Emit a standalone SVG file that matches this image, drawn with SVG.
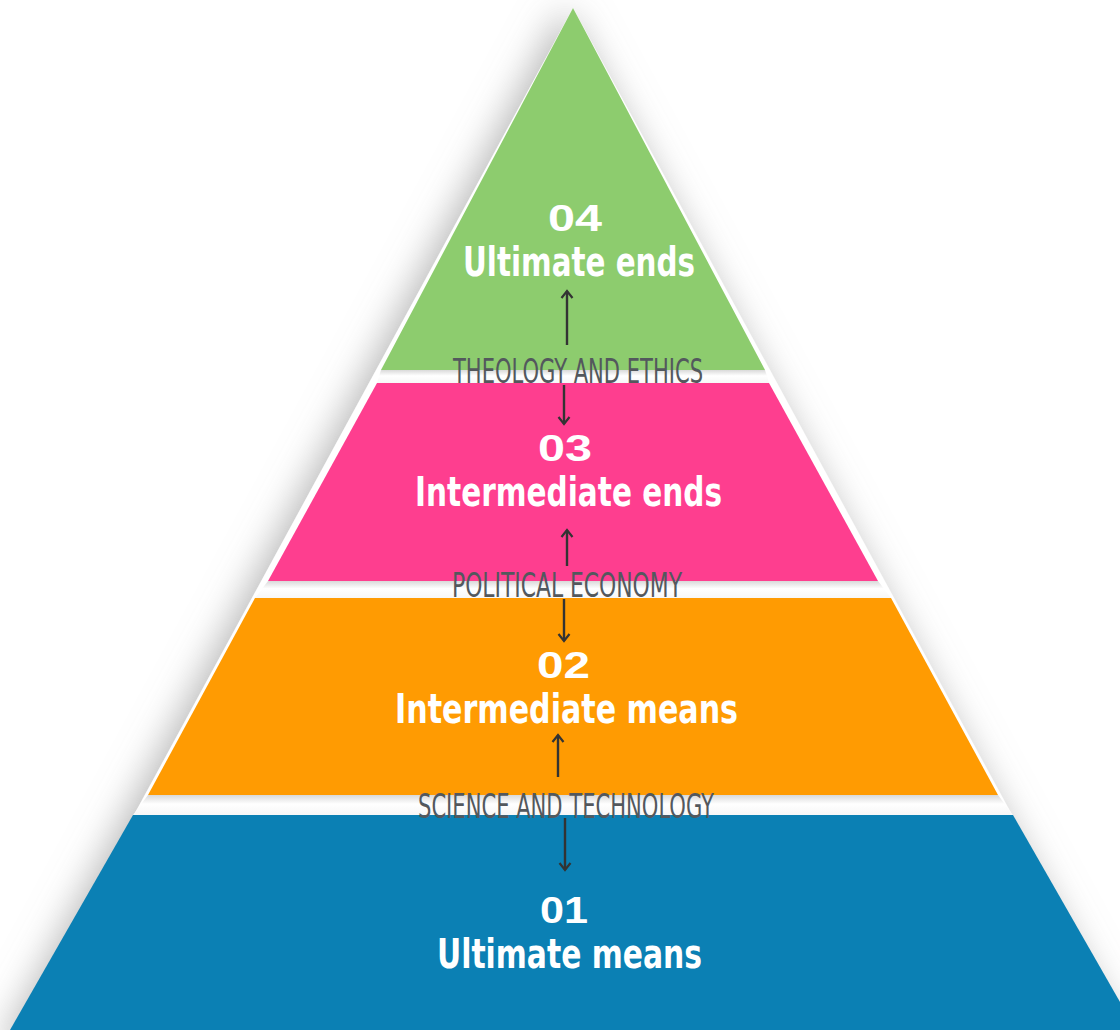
<svg xmlns="http://www.w3.org/2000/svg" width="1120" height="1030" viewBox="0 0 1120 1030">
  <style>
    .num { font-family: "Liberation Sans", "DejaVu Sans", sans-serif; font-weight: bold; font-size: 36px; fill: #ffffff; }
    .lbl { font-family: "Liberation Sans Narrow", "DejaVu Sans Condensed", "Liberation Sans", sans-serif; font-weight: bold; font-size: 40px; fill: #ffffff; }
    .disc { font-family: "Liberation Sans Narrow", "DejaVu Sans Condensed", "Liberation Sans", sans-serif; font-weight: normal; font-size: 34px; fill: #53585d; }
    .arrow { stroke: #333333; stroke-width: 2.4; fill: none; marker-end: url(#head); }
    .band { fill: url(#bandGrad); }
  </style>
  <defs>
    <linearGradient id="bandGrad" x1="0" y1="0" x2="0" y2="1">
      <stop offset="0" stop-color="#d9d9d9"/>
      <stop offset="0.45" stop-color="#ffffff"/>
      <stop offset="1" stop-color="#f7f7f7"/>
    </linearGradient>
    <filter id="shadow" x="-10%" y="-10%" width="120%" height="120%">
      <feGaussianBlur in="SourceAlpha" stdDeviation="18"/>
      <feOffset dx="-8" dy="0" result="b"/>
      <feFlood flood-color="#8a8a8a" flood-opacity="0.6"/>
      <feComposite in2="b" operator="in"/>
      <feMerge><feMergeNode/><feMergeNode in="SourceGraphic"/></feMerge>
    </filter>
    <marker id="head" viewBox="-9 -7 11 14" refX="0" refY="0" markerWidth="11" markerHeight="14" markerUnits="userSpaceOnUse" orient="auto">
      <path d="M-7,-5.5 L0,0 L-7,5.5" fill="none" stroke="#333333" stroke-width="2.2"/>
    </marker>
  </defs>

  <rect width="1120" height="1030" fill="#ffffff"/>

  <g id="pyramid-back">
    <polygon points="573,8 1140,1050 6,1050" fill="#ffffff" filter="url(#shadow)"/>
    <polygon class="band" points="381,370 765,370 769,383 377,383"/>
    <polygon class="band" points="268,581 878,581 891,598 255,598"/>
    <polygon class="band" points="148,795 998,795 1013,815 133,815"/>
  </g>

  <g id="layer-04">
    <polygon points="573,8 765,370 381,370" fill="#8dcc6e"/>
    <text class="num" x="548" y="231" textLength="54" lengthAdjust="spacingAndGlyphs">04</text>
    <text class="lbl" x="463" y="276" textLength="232" lengthAdjust="spacingAndGlyphs">Ultimate ends</text>
  </g>

  <g id="layer-03">
    <polygon points="377,383 769,383 878,581 268,581" fill="#fe3e8f"/>
    <text class="num" x="538" y="461" textLength="54" lengthAdjust="spacingAndGlyphs">03</text>
    <text class="lbl" x="415" y="506" textLength="307" lengthAdjust="spacingAndGlyphs">Intermediate ends</text>
  </g>

  <g id="layer-02">
    <polygon points="255,598 891,598 998,795 148,795" fill="#ff9b02"/>
    <text class="num" x="537" y="678" textLength="53" lengthAdjust="spacingAndGlyphs">02</text>
    <text class="lbl" x="395" y="723" textLength="343" lengthAdjust="spacingAndGlyphs">Intermediate means</text>
  </g>

  <g id="layer-01">
    <polygon points="133,815 1013,815 1136,1030 10,1030" fill="#0b80b4"/>
    <text class="num" x="540" y="923" textLength="48" lengthAdjust="spacingAndGlyphs">01</text>
    <text class="lbl" x="437" y="968" textLength="265" lengthAdjust="spacingAndGlyphs">Ultimate means</text>
  </g>

  <g id="connectors">
    <line class="arrow" x1="567" y1="345" x2="567" y2="291"/>
    <line class="arrow" x1="564" y1="385" x2="564" y2="424"/>
    <line class="arrow" x1="567" y1="566" x2="567" y2="530"/>
    <line class="arrow" x1="564" y1="599" x2="564" y2="641"/>
    <line class="arrow" x1="558" y1="777" x2="558" y2="735"/>
    <line class="arrow" x1="565" y1="818" x2="565" y2="870"/>
  </g>

  <g id="discipline-labels">
    <text class="disc" x="453" y="383" textLength="250" lengthAdjust="spacingAndGlyphs">THEOLOGY AND ETHICS</text>
    <text class="disc" x="452" y="597" textLength="230" lengthAdjust="spacingAndGlyphs">POLITICAL ECONOMY</text>
    <text class="disc" x="418" y="818" textLength="296" lengthAdjust="spacingAndGlyphs">SCIENCE AND TECHNOLOGY</text>
  </g>
</svg>
